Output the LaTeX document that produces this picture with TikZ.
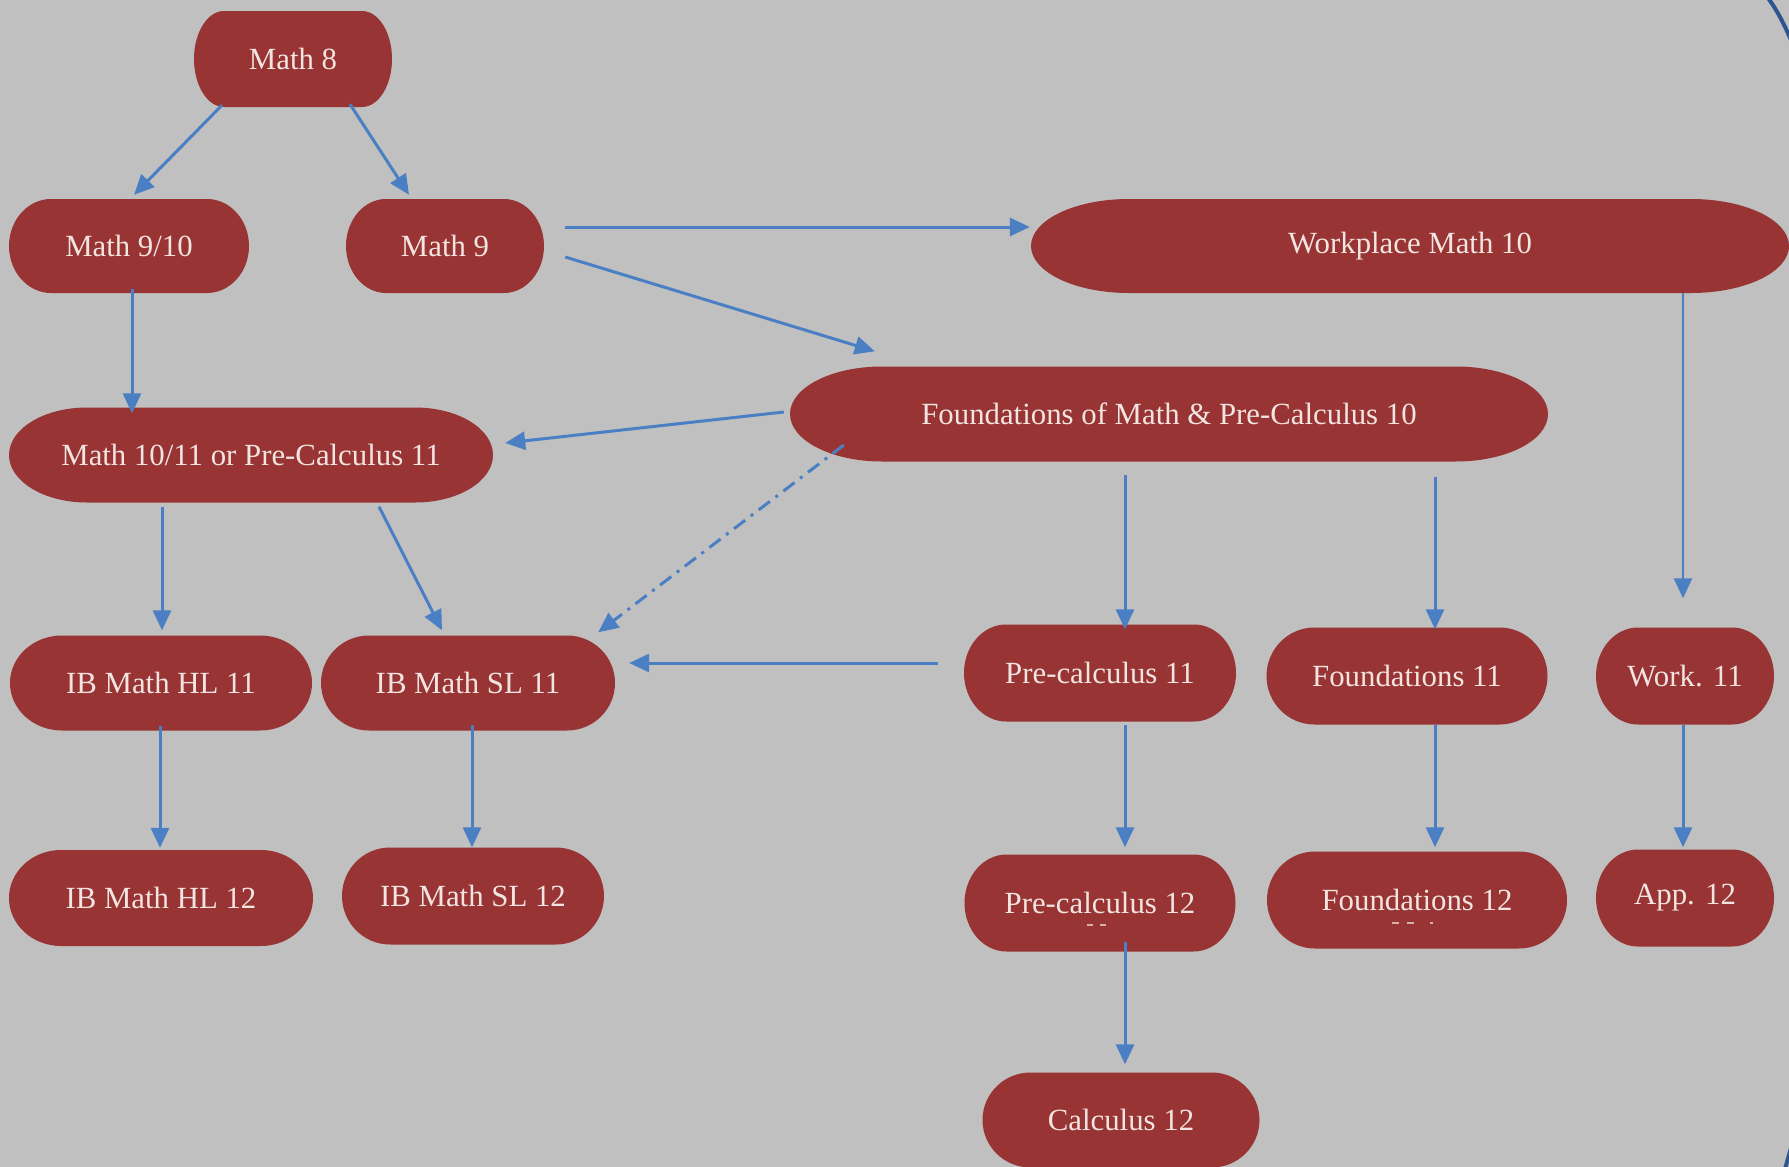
\documentclass[tikz,border=0pt]{standalone}
\usepackage{fontspec}
\setmainfont{Liberation Serif}
\usetikzlibrary{arrows.meta,calc}
\definecolor{bg}{HTML}{C0C0C0}
\definecolor{boxred}{HTML}{983434}
\definecolor{boxtext}{HTML}{F2E4E0}
\definecolor{arrowblue}{HTML}{4A7FC3}
\definecolor{rimblue}{HTML}{2F5590}
\newcommand{\boxfont}{\fontsize{30.8}{36}\selectfont}
\tikzset{
  pill/.style n args={3}{shape=rectangle, minimum width=#1, minimum height=#2,
    inner sep=0pt, text=boxtext, font=\boxfont,
    path picture={\fill[boxred]
      ([xshift=#3]path picture bounding box.south west) --
      ([xshift=-#3]path picture bounding box.south east)
      arc[start angle=-90,end angle=90,x radius=#3,y radius=#2/2] --
      ([xshift=#3]path picture bounding box.north west)
      arc[start angle=90,end angle=270,x radius=#3,y radius=#2/2] -- cycle;}},
  arr/.style={draw=arrowblue, line width=3pt, -{Triangle[length=20pt,width=18pt]}},
  dasharr/.style={arr, dash pattern=on 14pt off 7pt on 3pt off 7pt},
  speck/.style={draw=boxtext!70!boxred, line width=2pt},
  rim/.style={draw=rimblue, line width=4pt}
}
\begin{document}
\begin{tikzpicture}[x=1pt,y=-1pt]
\fill[bg] (0,0) rectangle (1789,1167);
\useasboundingbox (0,0) rectangle (1789,1167);

% nodes
\node[pill={198pt}{96pt}{30pt}]  (m8)    at (293,59)   {Math 8};
\node[pill={240pt}{94pt}{42pt}]  (m910)  at (129,246)  {Math 9/10};
\node[pill={198pt}{94pt}{40pt}]  (m9)    at (445,246)  {Math 9};
\node[pill={758pt}{94pt}{98pt}]  (wp10)  at (1410,246) {Workplace Math 10};
\node[pill={758pt}{95pt}{92pt}]  (fp10)  at (1169,414) {Foundations of Math \& Pre-Calculus 10};
\node[pill={484pt}{95pt}{78pt}]  (m1011) at (251,455)  {Math 10/11 or Pre-Calculus 11};
\node[pill={302pt}{95pt}{52pt}]  (hl11)  at (161,683)  {IB Math HL 11};
\node[pill={294pt}{95pt}{48pt}]  (sl11)  at (468,683)  {IB Math SL 11};
\node[pill={304pt}{96pt}{52pt}]  (hl12)  at (161,898)  {IB Math HL 12};
\node[pill={262pt}{97pt}{48pt}]  (sl12)  at (473,896)  {IB Math SL 12};
\node[pill={272pt}{97pt}{42pt}]  (pc11)  at (1100,673) {Pre-calculus 11};
\node[pill={281pt}{97pt}{48pt}]  (f11)   at (1407,676) {Foundations 11};
\node[pill={178pt}{97pt}{42pt}]  (w11)   at (1685,676) {Work. 11};
\node[pill={271pt}{97pt}{42pt}]  (pc12)  at (1100,903) {Pre-calculus 12};
\node[pill={300pt}{97pt}{48pt}]  (f12)   at (1417,900) {Foundations 12};
\node[pill={178pt}{97pt}{42pt}]  (a12)   at (1685,898) {App. 12};
\node[pill={277pt}{95pt}{48pt}]  (c12)   at (1121,1120) {Calculus 12};

% small specks under two labels
\draw[speck] ($(pc12.center)+(-13,22)$) -- ++(6,0);
\draw[speck] ($(pc12.center)+(0,22)$) -- ++(6,0);
\draw[speck] ($(f12.center)+(-25,23)$) -- ++(7,0);
\draw[speck] ($(f12.center)+(-10,23)$) -- ++(7,0);
\draw[speck] ($(f12.center)+(13,23)$) -- ++(3,0);

% connectors
\draw[arr] ($(m8.south)+(-71,-2)$) -- ($(m910.north)+(5,-4)$);
\draw[arr] ($(m8.south)+(57,-3)$) -- ($(m9.north)+(-36,-4)$);
\draw[arr] ($(m9.east)+(21,-19)$) -- ($(wp10.west)+(-1,-19)$);
\draw[arr] ($(m9.east)+(21,11)$) -- ($(fp10.north west)+(85,-15)$);
\draw[arr] ($(m910.south)+(3,-4)$) -- ($(m1011.north)+(-119,6)$);
\draw[arr] ($(fp10.west)+(-6,-2)$) -- ($(m1011.east)+(12,-12)$);
\draw[dasharr] ($(fp10.west)+(54,31)$) -- ($(sl11.north east)+(-17,-3)$);
\draw[arr] ($(m1011.south)+(-89,4)$) -- ($(hl11.north)+(1,-5)$);
\draw[arr] ($(m1011.south)+(128,4)$) -- ($(sl11.north)+(-26,-5)$);
\draw[arr] ($(hl11.south)+(-1,-5)$) -- ($(hl12.north)+(-1,-2)$);
\draw[arr] ($(sl11.south)+(4,-6)$) -- ($(sl12.north)+(-1,0)$);
\draw[arr] ($(pc11.west)+(-26,-10)$) -- ($(sl11.east)+(14,-20)$);
\draw[arr] ($(fp10.south)+(-44,13)$) -- ($(pc11.north)+(25,5)$);
\draw[arr] ($(fp10.south)+(266,15)$) -- ($(f11.north)+(28,2)$);
\draw[arr, line width=2.5pt] ($(wp10.south)+(273,0)$) -- ($(w11.north)+(-2,-29)$);
\draw[arr] ($(pc11.south)+(25,3)$) -- ($(pc12.north)+(25,-7)$);
\draw[arr] ($(f11.south)+(28,0)$) -- ($(f12.north)+(18,-4)$);
\draw[arr] ($(w11.south)+(-2,0)$) -- ($(a12.north)+(-2,-2)$);
\draw[arr] ($(pc12.south)+(25,-10)$) -- ($(c12.north)+(4,-8)$);

% rim of a circle at the right edge
\draw[rim] (1768,-2) .. controls (1777,10) and (1784,24) .. (1791,40);
\draw[rim] (1791,1148) .. controls (1789,1155) and (1787,1162) .. (1785,1169);
\end{tikzpicture}
\end{document}
